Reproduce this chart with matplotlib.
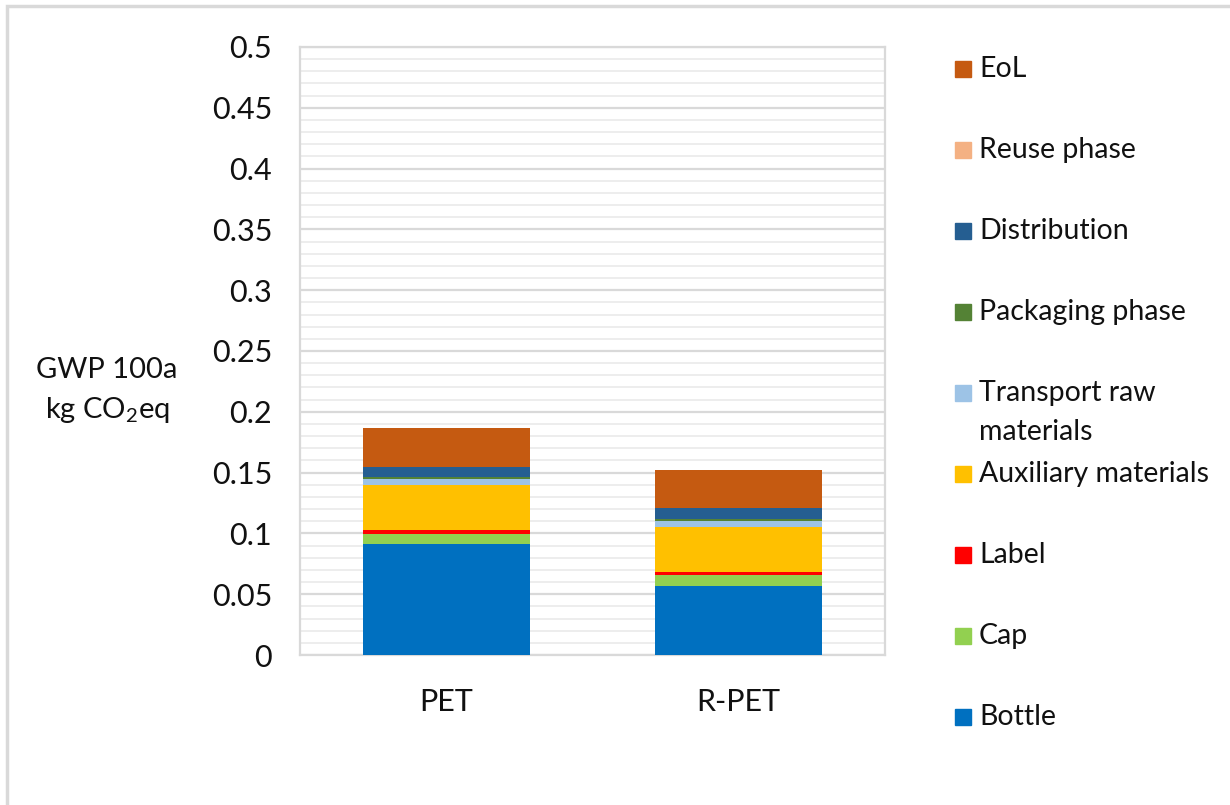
import matplotlib
matplotlib.use("Agg")
import matplotlib.pyplot as plt
from matplotlib.patches import Rectangle
from matplotlib.ticker import MultipleLocator
import numpy as np

plt.rcParams["font.family"] = ["Lato", "DejaVu Sans"]
plt.rcParams["mathtext.fontset"] = "custom"
plt.rcParams["mathtext.rm"] = "Lato"
plt.rcParams["mathtext.it"] = "Lato:italic"

categories = ["PET", "R-PET"]
series = ["Bottle", "Cap", "Label", "Auxiliary materials", "Transport raw materials",
          "Packaging phase", "Distribution", "Reuse phase", "EoL"]
legend_labels = ["Bottle", "Cap", "Label", "Auxiliary materials", "Transport raw\nmaterials",
                 "Packaging phase", "Distribution", "Reuse phase", "EoL"]
bottle = [0.0913, 0.0570]
cap = [0.0082, 0.0088]
label = [0.0030, 0.0024]
auxiliary = [0.0373, 0.0371]
transport = [0.0049, 0.0049]
packaging = [0.0019, 0.0016]
distribution = [0.0083, 0.0088]
reuse = [0.0, 0.0]
eol = [0.0315, 0.0315]
values = [bottle, cap, label, auxiliary, transport, packaging, distribution, reuse, eol]
colors = ["#0070C0", "#92D050", "#FF0000", "#FFC000", "#9DC3E6",
          "#548235", "#255E91", "#F4B183", "#C55A11"]

W, H = 1230, 805
fig = plt.figure(figsize=(W / 100, H / 100), dpi=100)
ax = fig.add_axes([300 / W, 1 - 655 / H, 585 / W, 608 / H])

x = np.arange(len(categories))
bottom = np.zeros(len(categories))
for vals, c in zip(values, colors):
    ax.bar(x, vals, 0.57, bottom=bottom, color=c, zorder=3)
    bottom += np.array(vals)

ax.set_xlim(-0.5, 1.5)
ax.set_ylim(0, 0.5)
ax.yaxis.set_minor_locator(MultipleLocator(0.01))
ax.set_yticks(np.arange(0, 0.501, 0.05))
ax.set_yticklabels(["0", "0.05", "0.1", "0.15", "0.2", "0.25", "0.3", "0.35", "0.4", "0.45", "0.5"])
ax.set_xticks(x)
ax.set_xticklabels(categories)
ax.tick_params(axis="both", which="both", length=0, labelsize=22, colors="#111111")
ax.tick_params(axis="x", pad=24)
ax.tick_params(axis="y", pad=20)
ax.grid(axis="y", which="major", color="#d9d9d9", linewidth=1.6, zorder=0)
ax.grid(axis="y", which="minor", color="#ededed", linewidth=1.4, zorder=0)
for s in ax.spines.values():
    s.set_color("#d9d9d9")
    s.set_linewidth(1.6)

fig.text(107 / W, 1 - 370 / H, "GWP 100a", ha="center", va="center", fontsize=21, color="#111111")
fig.text(107 / W, 1 - 410 / H, "kg CO$_2$eq", ha="center", va="center", fontsize=21, color="#111111")

# legend, drawn top to bottom in reverse series order
for i, (name, c) in enumerate(zip(legend_labels[::-1], colors[::-1])):
    yc = 69 + 81 * i
    fig.add_artist(Rectangle((955 / W, 1 - (yc + 8) / H), 16 / W, 16 / H,
                             transform=fig.transFigure, color=c))
    for j, line in enumerate(name.split("\n")):
        fig.text(979 / W, 1 - (yc + 39 * j) / H, line, ha="left", va="center",
                 fontsize=20.5, color="#111111")

fig.add_artist(Rectangle((7 / W, -0.1), 1.2, 1 - 6 / H + 0.1, transform=fig.transFigure,
                         fill=False, edgecolor="#d9d9d9", linewidth=2.5))

fig.savefig("out.png", dpi=100)
